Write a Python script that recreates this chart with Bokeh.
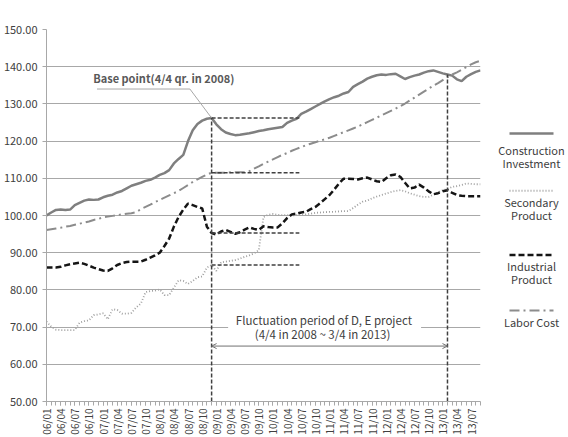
import math
from bokeh.plotting import figure
from bokeh.models import FixedTicker, Label, Arrow, OpenHead, Range1d, NumeralTickFormatter
from bokeh.layouts import row
from bokeh.embed import file_html
from bokeh.resources import INLINE
from bokeh.core.properties import value

FONT = "Noto Sans CJK KR"

# monthly categories 06/01 .. 13/09
months = [f"{y:02d}/{m:02d}" for y in range(6, 14) for m in range(1, 13)][:93]
xi = list(range(len(months)))

construction = [
    100.0, 100.8, 101.5, 101.6, 101.5, 101.6, 102.8, 103.4, 104.0, 104.3,
    104.2, 104.3, 104.9, 105.3, 105.6, 106.2, 106.6, 107.3, 108.0, 108.4,
    108.8, 109.3, 109.6, 110.2, 110.9, 111.4, 112.2, 114.0, 115.2, 116.3,
    120.0, 122.9, 124.6, 125.5, 126.0, 126.2, 124.5, 123.2, 122.3, 121.9,
    121.6, 121.7, 121.9, 122.1, 122.4, 122.7, 122.9, 123.2, 123.4, 123.6,
    123.8, 124.9, 125.5, 126.0, 127.3, 127.9, 128.6, 129.3, 130.0, 130.7,
    131.3, 131.8, 132.2, 132.8, 133.2, 134.6, 135.3, 136.0, 136.8, 137.3,
    137.7, 137.9, 137.8, 138.0, 138.1, 137.4, 136.7, 137.2, 137.6, 137.9,
    138.4, 138.8, 139.0, 138.6, 138.2, 137.9, 137.6, 136.6, 136.1, 137.3,
    138.0, 138.6, 139.0]

secondary = [
    71.5, 70.1, 69.3, 69.2, 69.2, 69.2, 69.2, 71.2, 71.6, 71.8,
    73.2, 73.4, 73.7, 72.1, 74.8, 74.6, 73.6, 73.6, 73.8, 75.3,
    76.3, 79.4, 79.7, 79.8, 80.1, 78.6, 78.6, 80.6, 82.6, 82.4,
    81.6, 82.4, 83.4, 83.6, 86.0, 86.7, 85.1, 87.4, 87.6, 87.8,
    88.0, 88.4, 88.9, 89.3, 89.8, 90.7, 99.6, 100.2, 100.4, 100.2,
    100.1, 100.1, 100.0, 100.1, 100.1, 100.3, 100.5, 100.7, 100.8, 100.9,
    101.0, 101.0, 101.1, 101.2, 101.2, 102.0, 102.9, 103.7, 104.0, 104.6,
    105.1, 105.5, 105.9, 106.3, 106.6, 106.8, 106.5, 106.0, 105.6, 105.2,
    105.0, 105.0, 105.6, 106.2, 106.8, 107.1, 107.7, 107.9, 108.2, 108.6,
    108.5, 108.4, 108.4]

industrial = [
    86.0, 86.0, 86.0, 86.2, 86.6, 86.9, 87.1, 87.3, 87.0, 86.5,
    86.0, 85.6, 85.2, 85.1, 85.8, 86.7, 87.2, 87.5, 87.6, 87.6,
    87.6, 88.1, 88.7, 89.3, 90.0, 91.8, 93.8, 97.0, 99.6, 101.6,
    103.2, 102.8, 102.3, 101.9, 97.0, 95.3, 94.9, 95.7, 96.1, 95.6,
    95.1, 95.5, 96.2, 96.8, 96.4, 96.1, 97.1, 96.9, 96.8, 96.8,
    97.9, 99.3, 100.3, 100.5, 100.8, 101.0, 101.7, 102.3, 103.3, 104.4,
    105.5, 107.0, 108.6, 109.9, 109.9, 109.8, 109.7, 110.0, 110.2, 109.7,
    109.2, 109.0, 110.0, 110.8, 111.0, 110.4, 108.8, 107.3, 107.5, 108.3,
    107.5, 106.5, 105.7, 106.0, 106.5, 106.8, 106.1, 105.5, 105.3, 105.2,
    105.2, 105.2, 105.2]

labor = [
    96.1, 96.3, 96.5, 96.7, 97.0, 97.2, 97.5, 97.8, 98.1, 98.4,
    98.8, 99.1, 99.5, 99.7, 99.9, 100.1, 100.3, 100.5, 100.6, 100.9,
    101.7, 102.3, 102.9, 103.6, 104.2, 104.8, 105.4, 106.0, 106.6, 107.4,
    108.2, 109.0, 109.7, 110.4, 111.0, 111.5, 111.5, 111.5, 111.5, 111.6,
    111.6, 111.6, 111.7, 111.9, 112.6, 113.2, 113.9, 114.5, 115.1, 115.7,
    116.3, 116.8, 117.4, 117.9, 118.4, 118.9, 119.3, 119.7, 120.1, 120.5,
    120.9, 121.4, 121.9, 122.4, 122.9, 123.4, 123.9, 124.5, 125.1, 125.7,
    126.3, 126.9, 127.5, 128.1, 128.7, 129.4, 130.1, 130.9, 131.7, 132.5,
    133.3, 134.1, 134.9, 135.6, 136.4, 137.2, 137.9, 138.5, 139.2, 139.9,
    140.6, 141.2, 141.6]

y_ticks = list(range(50, 151, 10))
base_idx = 35      # 08/12 (4/4 qr. 2008)
end_idx = 85       # end of fluctuation period
ref_end = 53.6

p = figure(width=485, height=437, x_range=(0, 92), y_range=(50, 150),
           output_backend="svg", toolbar_location=None,
           min_border_left=42, min_border_right=5, min_border_top=29, min_border_bottom=35)
p.outline_line_color = None
p.background_fill_color = "white"
p.border_fill_color = "white"
p.xgrid.visible = False

p.yaxis.ticker = FixedTicker(ticks=y_ticks)
p.yaxis.formatter = NumeralTickFormatter(format="0.00")
p.ygrid.grid_line_color = "#a8a8a8"
p.ygrid.grid_line_width = 1.2
p.yaxis.axis_line_color = "#a8a8a8"
p.yaxis.major_tick_line_color = "#a8a8a8"
p.yaxis.major_tick_out = 4
p.yaxis.major_tick_in = 0
p.yaxis.minor_tick_line_color = None
p.yaxis.major_label_standoff = 5
p.yaxis.major_label_text_font = FONT
p.yaxis.major_label_text_font_size = "11px"
p.yaxis.major_label_text_color = "#404040"

p.xaxis.ticker = FixedTicker(ticks=xi[::3], minor_ticks=xi)
p.xaxis.major_label_overrides = {i: months[i] for i in xi[::3]}
p.xaxis.major_label_orientation = math.pi / 2
p.xaxis.axis_line_color = "#a8a8a8"
p.xaxis.major_tick_line_color = "#a8a8a8"
p.xaxis.minor_tick_line_color = "#a8a8a8"
p.xaxis.major_tick_out = 4
p.xaxis.major_tick_in = 0
p.xaxis.minor_tick_out = 4
p.xaxis.minor_tick_in = 0
p.xaxis.major_label_standoff = 3
p.xaxis.major_label_text_font = FONT
p.xaxis.major_label_text_font_size = "10px"
p.xaxis.major_label_text_color = "#404040"

# white text box covering grid
p.quad(left=[38.5], right=[79.4], bottom=[66.3], top=[74.1],
       fill_color="white", line_color=None)

p.line(xi, construction, line_color="#7f7f7f", line_width=2.5)
p.line(xi, secondary, line_color="#a0a0a0", line_width=1.8, line_dash="1 2")
p.line(xi, industrial, line_color="#151515", line_width=2.5, line_dash="6 3")
p.line(xi, labor, line_color="#8c8c8c", line_width=2, line_dash="10 4 2 4")

# reference dashed lines
p.segment(x0=[base_idx, end_idx], y0=[50, 50], x1=[base_idx, end_idx],
          y1=[construction[base_idx], construction[end_idx]],
          line_color="#404040", line_width=1.5, line_dash="4 2")
refs = [construction[base_idx], labor[base_idx], industrial[base_idx], secondary[base_idx]]
p.segment(x0=[base_idx] * 4, y0=refs, x1=[ref_end] * 4, y1=refs,
          line_color="#404040", line_width=1.5, line_dash="4 2")

# base point callout
p.line([10.7, 30.4, base_idx], [134.0, 134.0, construction[base_idx]],
       line_color="#a8a8a8", line_width=1)
p.add_layout(Label(x=9.9, y=136.9, text="Base point(4/4 qr. in 2008)",
                   text_font=FONT, text_font_size="11px", text_font_style="bold",
                   text_color="#595959", text_baseline="middle"))

p.add_layout(Label(x=58.8, y=71.9, text="Fluctuation period of D, E project",
                   text_font=FONT, text_font_size="11.5px", text_color="#404040",
                   text_align="center", text_baseline="middle"))
p.add_layout(Label(x=58.8, y=68.2, text="(4/4 in 2008 ~  3/4 in 2013)",
                   text_font=FONT, text_font_size="11.5px", text_color="#404040",
                   text_align="center", text_baseline="middle"))
p.add_layout(Arrow(start=OpenHead(size=5, line_color="#707070", line_width=1),
                   end=OpenHead(size=5, line_color="#707070", line_width=1),
                   x_start=base_idx, y_start=64.9, x_end=end_idx, y_end=64.9,
                   line_color="#707070", line_width=1))

# legend panel (frame is aligned with the main frame: pixel rows 29..402)
lg = figure(width=83, height=437, x_range=Range1d(0, 83), y_range=Range1d(402, 29),
            output_backend="svg", toolbar_location=None,
            x_axis_location=None, y_axis_location=None,
            min_border=0, min_border_left=0, min_border_right=0,
            min_border_top=29, min_border_bottom=35)
lg.outline_line_color = None
lg.grid.visible = False

lg.line([24, 68], [133.3, 133.3], line_color="#7f7f7f", line_width=2.5)
lg.line([24, 68], [190.7, 190.7], line_color="#a0a0a0", line_width=1.8, line_dash="1 2")
lg.line([24, 68], [255, 255], line_color="#151515", line_width=2.5, line_dash="6 3")
lg.line([24, 68], [310.7, 310.7], line_color="#8c8c8c", line_width=2, line_dash="10 4 2 4")
legend_text = ["Construction", "Investment", "Secondary", "Product",
               "Industrial", "Product", "Labor Cost"]
legend_y = [150, 163.3, 201.7, 215, 266, 279, 322.7]
lg.text(x=[46] * len(legend_text), y=legend_y, text=legend_text,
        text_font=value(FONT), text_font_size="11px", text_color="#404040",
        text_align="center", text_baseline="middle")

layout = row(p, lg)
open("out.html", "w").write(file_html(layout, INLINE))
